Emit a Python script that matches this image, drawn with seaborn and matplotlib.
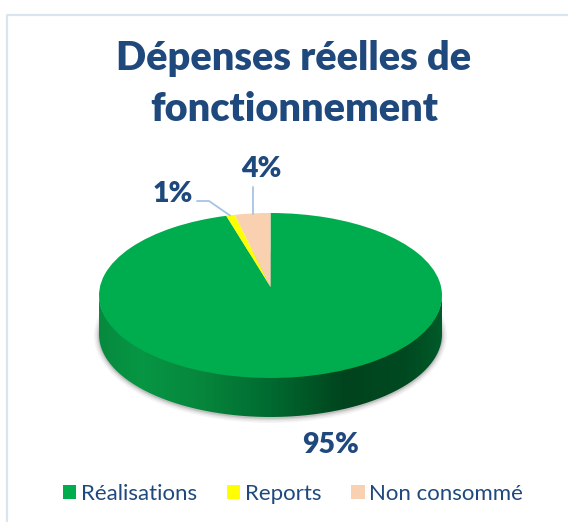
import numpy as np
import matplotlib
matplotlib.use("Agg")
import matplotlib.pyplot as plt
import seaborn as sns
from matplotlib.colors import LinearSegmentedColormap
from matplotlib.lines import Line2D
from matplotlib.patches import Ellipse, PathPatch
from matplotlib.path import Path
from matplotlib.transforms import Transform

categories = ["Réalisations", "Reports", "Non consommé"]
values = [95.4, 0.9, 3.7]
colors = ["#00ad4e", "#ffff00", "#f9d0b0"]
title_text = "Dépenses réelles de\nfonctionnement"

NAVY = "#1f497d"
LEADER = "#a6c3e8"

sns.set_theme(style="white")
plt.rcParams["font.family"] = ["Lato", "DejaVu Sans"]

# pie geometry in pixels
cx, cy = 270.5, 295.5
rx, ry = 171.5, 82.5
depth = 39
apex_y = 287.0
k = (cy - apex_y) / ry


class TiltTransform(Transform):
    # unit circle to the tilted top of the pie, the far side looks smaller
    input_dims = 2
    output_dims = 2

    def transform_non_affine(self, xy):
        x, y = np.asarray(xy).T
        w = 1 + k * y
        sx = rx * np.sqrt(1 - k ** 2)
        sy = ry * (1 - k ** 2)
        return np.column_stack([cx + sx * x / w, apex_y - sy * y / w])


fig, ax = plt.subplots(figsize=(5.68, 5.22), dpi=100)
ax.set_position([0, 0, 1, 1])

wedges, _ = ax.pie(values, colors=sns.color_palette(colors), startangle=90,
                   counterclock=False, radius=1, wedgeprops={"linewidth": 0})
tilt = TiltTransform() + ax.transData
for w in wedges:
    w.set_transform(tilt)
    w.set_zorder(3)

# soft shadow under the pie
for grow, alpha in [(5, 0.05), (3.5, 0.07), (2, 0.1), (0.8, 0.14)]:
    ax.add_patch(Ellipse((cx, cy + depth + 1), 2 * (rx + grow), 2 * (ry + grow),
                         fc="#404040", ec="none", alpha=alpha, zorder=1))

# side wall with the horizontal gradient
t = np.linspace(0, np.pi, 200)
wall_x = np.r_[cx + rx * np.cos(t), cx + rx * np.cos(t[::-1])]
wall_y = np.r_[cy + ry * np.sin(t) + depth, cy + ry * np.sin(t[::-1]) - 1]
wall = PathPatch(Path(np.column_stack([wall_x, wall_y])), transform=ax.transData, fc="none", ec="none")
side_cmap = LinearSegmentedColormap.from_list("side", [
    (0.0, "#078a3e"), (0.12, "#069644"), (0.3, "#07863c"), (0.5, "#006a30"),
    (0.72, "#00431d"), (0.9, "#004a21"), (1.0, "#005a29")])
im = ax.imshow(np.linspace(0, 1, 256)[None, :], cmap=side_cmap, aspect="auto",
               extent=(cx - rx, cx + rx, cy + ry + depth, cy - 5), zorder=2)
ax.add_patch(wall)
im.set_clip_path(wall)

ax.set_aspect("auto")
ax.set_xlim(0, 568)
ax.set_ylim(522, 0)
ax.axis("off")

# leader lines
ax.plot([197, 209, 230], [201, 201, 215.5], color=LEADER, lw=1.3, zorder=4)
ax.plot([252.7, 252.7], [187, 213.5], color=LEADER, lw=1.3, zorder=4)

label_xy = [(331, 445), (173, 194), (261, 169)]
for v, (lx, ly) in zip(values, label_xy):
    ax.text(lx, ly, f"{v:.0f}%", color=NAVY, fontsize=20.5, fontweight="heavy",
            ha="center", va="center", zorder=5)

ax.text(294, 84, title_text, color=NAVY, fontsize=28.5, fontweight="heavy",
        ha="center", va="center", linespacing=1.45)

# frame of the original chart area
fig.add_artist(Line2D([7, 7, 568], [522, 15, 15], color="#dae5f1", lw=1.6,
                      transform=ax.transData))

handles = [plt.Rectangle((0, 0), 1, 1, fc=c, ec="none") for c in colors]
fig.legend(handles, categories, ncol=3, loc="center", bbox_to_anchor=(293 / 568, 1 - 493.5 / 522),
           frameon=False, fontsize=16, labelcolor=NAVY, handlelength=0.6, handleheight=0.6,
           handletextpad=0.2, columnspacing=1.35)

plt.savefig("out.png", dpi=100)
